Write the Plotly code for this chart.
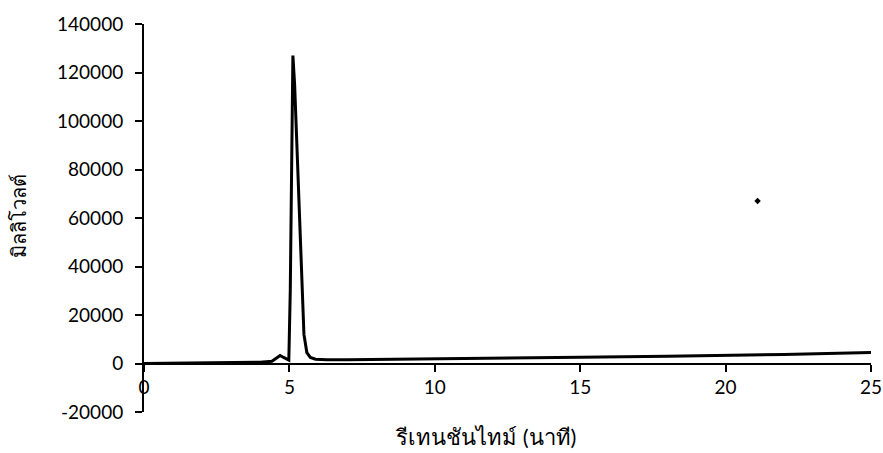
import plotly.graph_objects as go

# Chromatogram signal (retention time in minutes, signal in millivolts)
time_min = [0, 1, 2, 3, 4, 4.4, 4.55, 4.68, 4.8, 4.9, 4.98, 5.03, 5.08, 5.12, 5.18,
            5.26, 5.34, 5.42, 5.5, 5.6, 5.72, 5.9, 6.3, 7, 8, 9, 10, 12, 15, 18, 20, 22, 25]
signal_mv = [0, 100, 200, 300, 500, 900, 2200, 3300, 2500, 1700, 1400, 30000, 95000, 127000, 115000,
             90000, 62000, 33000, 12000, 4500, 2500, 1800, 1500, 1500, 1600, 1700, 1800, 2100, 2600, 3000, 3300, 3700, 4500]

# Isolated point
spot_x = [21.1]
spot_y = [67000]

y_ticks = [-20000, 0, 20000, 40000, 60000, 80000, 100000, 120000, 140000]
y_ticktext = ["-20000", "0", "20000", "40000", "60000", "80000", "100000", "120000", "140000"]
x_ticks = [0, 5, 10, 15, 20, 25]

x_title = "รีเทนชันไทม์ (นาที)"
y_title = "มิลลิโวลต์"

y_range = [-20000, 140000]
zero_pos = (0 - y_range[0]) / (y_range[1] - y_range[0])

font_family = "Lato, 'Noto Sans', sans-serif"

fig = go.Figure()
fig.add_trace(go.Scatter(x=time_min, y=signal_mv, mode="lines",
                         line=dict(color="black", width=3), showlegend=False))
fig.add_trace(go.Scatter(x=spot_x, y=spot_y, mode="markers",
                         marker=dict(color="black", size=5, symbol="diamond"), showlegend=False))

fig.update_layout(
    width=883, height=453,
    margin=dict(l=144, r=12, t=24, b=41, autoexpand=False),
    paper_bgcolor="white", plot_bgcolor="white",
    font=dict(family=font_family, color="black", size=19),
    xaxis=dict(range=[0, 25], tickvals=x_ticks, showgrid=False, zeroline=False,
               showline=True, linecolor="black", linewidth=2,
               ticks="outside", ticklen=7, tickwidth=2, tickcolor="black",
               anchor="free", position=zero_pos, automargin=False,
               tickfont=dict(size=19)),
    yaxis=dict(range=y_range, tickvals=y_ticks, ticktext=y_ticktext, showgrid=False,
               zeroline=False, showline=True, linecolor="black", linewidth=2,
               ticks="outside", ticklen=7, tickwidth=2, tickcolor="black",
               ticklabelstandoff=8, automargin=False, tickfont=dict(size=19)),
    annotations=[
        dict(text=x_title, xref="paper", yref="paper", x=0.47, y=-0.064,
             xanchor="center", yanchor="middle", showarrow=False, font=dict(size=22)),
        dict(text=y_title, xref="paper", yref="paper", x=-0.173, y=0.505,
             xanchor="center", yanchor="middle", textangle=-90, showarrow=False,
             font=dict(size=20)),
    ],
)

fig.write_html("out.html")
